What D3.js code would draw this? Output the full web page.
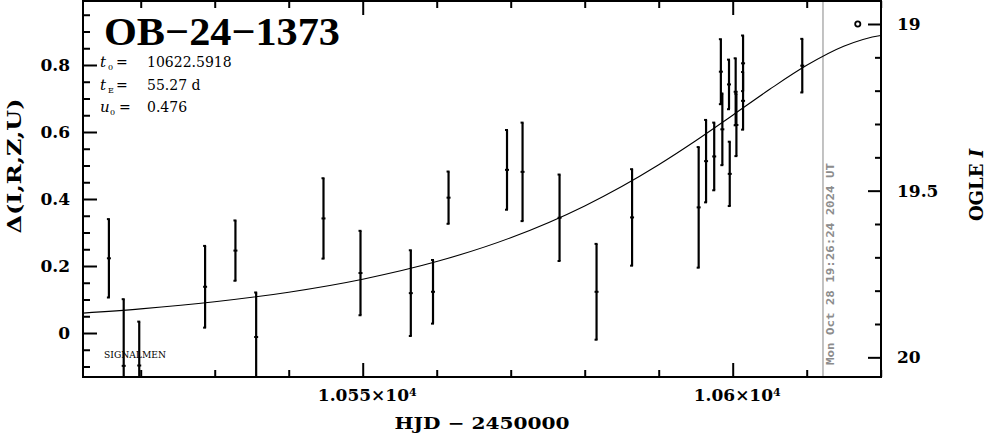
<!DOCTYPE html>
<html><head><meta charset="utf-8">
<script src="https://cdn.jsdelivr.net/npm/d3@7"></script>
<style>
html,body{margin:0;padding:0;background:#fff;}
svg{display:block;font-family:"DejaVu Serif","Liberation Serif",serif;}
</style></head>
<body>
<script>
// ---- data ----
const hjd   = [10515.7,10517.7,10519.8,10528.7,10532.8,10535.6,10544.7,10549.7,10556.5,10559.5,10561.6,10569.5,10571.6,10576.6,10581.6,10586.4,10595.4,10596.4,10597.5,10598.4,10598.6,10599.5,10599.6,10600.4,10600.5,10601.4,10601.4,10609.4];
const delta = [0.223,-0.098,-0.097,0.138,0.246,-0.012,0.342,0.179,0.119,0.123,0.404,0.487,0.481,0.344,0.123,0.345,0.375,0.513,0.527,0.780,0.608,0.742,0.475,0.720,0.621,0.805,0.693,0.798];
const err   = [0.117,0.199,0.131,0.122,0.090,0.133,0.120,0.126,0.128,0.095,0.078,0.119,0.147,0.129,0.143,0.144,0.180,0.123,0.101,0.097,0.107,0.074,0.096,0.100,0.093,0.083,0.086,0.080];
// model curve (read at sample dates)
const modelT = [10510,10520,10530,10540,10550,10560,10570,10580,10585,10590,10595,10600,10605,10610,10615,10620,10622.6];
const modelD = [0.0562,0.0721,0.0933,0.1219,0.1607,0.2133,0.2844,0.3794,0.4373,0.5023,0.5739,0.6502,0.7274,0.7990,0.8559,0.8881,0.8926];
const baseMarker = {t:10616.9, mag:19.0};
const nowLine = 10612.2;
const nowLabel = "Mon Oct 28 19:26:24 2024 UT";
const xMajor = [10550,10600];
const xMinor = [10520,10530,10540,10560,10570,10580,10590,10610,10620];
const yMajor = [0,0.2,0.4,0.6,0.8];
const yMinor = [-0.1,-0.05,0.05,0.1,0.15,0.25,0.3,0.35,0.45,0.5,0.55,0.65,0.7,0.75,0.85,0.9,0.95];
const magMajor = [19,19.5,20];
const magMinor = [19.1,19.2,19.3,19.4,19.6,19.7,19.8,19.9];
const title = "OB-24-1373";
const params = [["t","0","10622.5918"],["t","E","55.27 d"],["u","0","0.476"]];

const W=986,H=434;
const L=83,R=881,T=1,B=377;
const svg=d3.select("body").append("svg").attr("width",W).attr("height",H);

const x=d3.scaleLinear().domain([10512.2,10620.04]).range([L,R]);
const y=d3.scaleLinear().domain([-0.1313,0.9910]).range([B,T]);
const ym=d3.scaleLinear().domain([18.931,20.059]).range([T,B]);

svg.append("defs").append("clipPath").attr("id","clip")
  .append("rect").attr("x",L).attr("y",T).attr("width",R-L).attr("height",B-T);

// gray "now" line
svg.append("line").attr("x1",x(nowLine)).attr("x2",x(nowLine)).attr("y1",T).attr("y2",B)
  .attr("stroke","#9a9a9a").attr("stroke-width",1.2);
svg.append("text").attr("transform",`translate(${x(nowLine)+11},${B-12}) rotate(-90)`)
  .style("font-family","'DejaVu Sans Mono', monospace").attr("font-weight","bold")
  .attr("font-size",11).attr("fill","#8c8c8c")
  .attr("textLength",202).attr("lengthAdjust","spacingAndGlyphs").text(nowLabel);

// model curve
const line=d3.line().x((d,i)=>x(modelT[i])).y((d)=>y(d)).curve(d3.curveMonotoneX);
svg.append("path").attr("clip-path","url(#clip)").attr("d",line(modelD))
  .attr("fill","none").attr("stroke","#000").attr("stroke-width",1.1);

// error bars
const g=svg.append("g").attr("clip-path","url(#clip)");
hjd.forEach((t,i)=>{
  const cx=x(t), y0=y(delta[i]+err[i]), y1=y(delta[i]-err[i]), yc=y(delta[i]);
  g.append("line").attr("x1",cx).attr("x2",cx).attr("y1",y0).attr("y2",y1).attr("stroke","#000").attr("stroke-width",2.2);
  g.append("line").attr("x1",cx-2).attr("x2",cx+1).attr("y1",y0).attr("y2",y0).attr("stroke","#000").attr("stroke-width",2);
  g.append("line").attr("x1",cx-2).attr("x2",cx+1).attr("y1",y1).attr("y2",y1).attr("stroke","#000").attr("stroke-width",2);
  g.append("line").attr("x1",cx-2).attr("x2",cx+2).attr("y1",yc).attr("y2",yc).attr("stroke","#000").attr("stroke-width",2);
});

// base marker
svg.append("circle").attr("cx",x(baseMarker.t)).attr("cy",ym(baseMarker.mag)).attr("r",2.6)
  .attr("fill","none").attr("stroke","#000").attr("stroke-width",1.8);

// axes
function styleAxis(sel){
  sel.attr("font-family",null).attr("font-size",null);
  sel.select(".domain").remove();
  sel.selectAll(".tick line").attr("stroke","#000").attr("stroke-width",2);
  sel.selectAll("text").attr("fill","#000").attr("font-weight","bold").attr("font-size",17);
}
// left
svg.append("g").attr("transform",`translate(${L},0)`)
  .call(d3.axisLeft(y).tickValues(yMajor).tickSize(-14).tickPadding(13).tickFormat(d=>d===0?"0":d3.format(".1f")(d)))
  .call(styleAxis);
svg.append("g").attr("transform",`translate(${L},0)`)
  .call(d3.axisLeft(y).tickValues(yMinor).tickSize(-7).tickFormat("")).call(styleAxis);
// right
svg.append("g").attr("transform",`translate(${R},0)`)
  .call(d3.axisRight(ym).tickValues(magMajor).tickSize(-13).tickPadding(16).tickFormat(d=>String(d)))
  .call(styleAxis);
svg.append("g").attr("transform",`translate(${R},0)`)
  .call(d3.axisRight(ym).tickValues(magMinor).tickSize(-6).tickFormat("")).call(styleAxis);
// bottom
const bx=svg.append("g").attr("transform",`translate(0,${B})`)
  .call(d3.axisBottom(x).tickValues(xMajor).tickSize(-14).tickPadding(12).tickFormat(d=>String(d)))
  .call(styleAxis);
bx.selectAll(".tick text").each(function(d){
  const s=d3.select(this); s.text(null);
  const mant=(d/1e4).toString();
  s.append("tspan").text(mant+"×10");
  s.append("tspan").attr("dy","-0.45em").attr("font-size",11).text("4");
}).attr("x",4);
svg.append("g").attr("transform",`translate(0,${B})`)
  .call(d3.axisBottom(x).tickValues(xMinor).tickSize(-7).tickFormat("")).call(styleAxis);
// top
svg.append("g").attr("transform",`translate(0,${T})`)
  .call(d3.axisTop(x).tickValues(xMajor).tickSize(-14).tickFormat("")).call(styleAxis);
svg.append("g").attr("transform",`translate(0,${T})`)
  .call(d3.axisTop(x).tickValues(xMinor).tickSize(-7).tickFormat("")).call(styleAxis);

// frame
svg.append("rect").attr("x",L).attr("y",T).attr("width",R-L).attr("height",B-T)
  .attr("fill","none").attr("stroke","#000").attr("stroke-width",2);

// title
svg.append("text").attr("x",104).attr("y",45).attr("font-size",40).attr("font-weight","bold")
  .style("font-family","'Liberation Serif', serif")
  .attr("textLength",236).attr("lengthAdjust","spacingAndGlyphs").text(title.replace(/-/g,"−"));

// parameters
params.forEach((p,i)=>{
  const by=[67,90,112][i];
  svg.append("text").attr("x",100).attr("y",by).attr("font-size",15).attr("font-style","italic").text(p[0]);
  svg.append("text").attr("x",p[0]==="u"?110:108).attr("y",by+3).attr("font-size",8).text(p[1]);
  svg.append("text").attr("x",p[0]==="u"?119:116).attr("y",by).attr("font-size",14).text("=");
  svg.append("text").attr("x",147).attr("y",by).attr("font-size",14).text(p[2]);
});

// SIGNALMEN
svg.append("text").attr("x",104).attr("y",358).attr("font-size",9)
  .attr("textLength",62).attr("lengthAdjust","spacingAndGlyphs").text("SIGNALMEN");

// axis titles
svg.append("text").attr("transform","translate(21,166) rotate(-90)").attr("text-anchor","middle")
  .attr("font-size",19).attr("font-weight","bold").attr("textLength",135).attr("lengthAdjust","spacingAndGlyphs")
  .text("Δ(I,R,Z,U)");
const og=svg.append("text").attr("transform","translate(983,185) rotate(-90)").attr("text-anchor","middle")
  .attr("font-size",18).attr("font-weight","bold");
og.append("tspan").text("OGLE ");
og.append("tspan").attr("font-style","italic").text("I");
svg.append("text").attr("x",(L+R)/2).attr("y",429).attr("text-anchor","middle")
  .attr("font-size",17).attr("font-weight","bold").attr("textLength",175).attr("lengthAdjust","spacingAndGlyphs")
  .text("HJD − 2450000");
</script>
</body></html>
